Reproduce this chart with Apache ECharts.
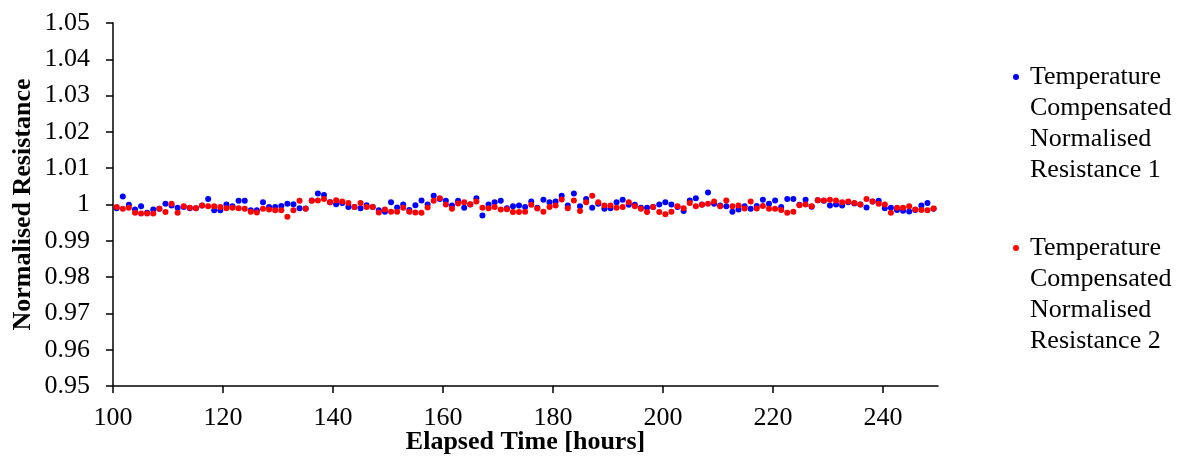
<!DOCTYPE html>
<html>
<head>
<meta charset="utf-8">
<script src="https://cdn.jsdelivr.net/npm/echarts@6/dist/echarts.min.js"></script>
<style>
html,body{margin:0;padding:0;background:#fff;}
#chart{width:1180px;height:457px;}
</style>
</head>
<body>
<div id="chart"></div>
<script>
const seriesNames = ['Temperature Compensated Normalised Resistance 1', 'Temperature Compensated Normalised Resistance 2'];
const legendLines = [
  ['Temperature', 'Compensated', 'Normalised', 'Resistance 1'],
  ['Temperature', 'Compensated', 'Normalised', 'Resistance 2']
];
const xAxisTitle = 'Elapsed Time [hours]';
const yAxisTitle = 'Normalised Resistance';
const xMin = 100, xMax = 250, xStep = 20;
const yMin = 0.95, yMax = 1.05, yStep = 0.01;
const xTickValues = [100, 120, 140, 160, 180, 200, 220, 240];

const times = [
100.67,101.78,102.89,104.00,105.10,106.21,107.32,108.43,109.54,110.65,
111.75,112.86,113.97,115.08,116.19,117.30,118.40,119.51,120.62,121.73,
122.84,123.95,125.05,126.16,127.27,128.38,129.49,130.60,131.71,132.81,
133.92,135.03,136.14,137.25,138.36,139.46,140.57,141.68,142.79,143.90,
145.01,146.11,147.22,148.33,149.44,150.55,151.66,152.76,153.87,154.98,
156.09,157.20,158.31,159.42,160.52,161.63,162.74,163.85,164.96,166.07,
167.17,168.28,169.39,170.50,171.61,172.72,173.82,174.93,176.04,177.15,
178.26,179.37,180.47,181.58,182.69,183.80,184.91,186.02,187.13,188.23,
189.34,190.45,191.56,192.67,193.78,194.88,195.99,197.10,198.21,199.32,
200.43,201.53,202.64,203.75,204.86,205.97,207.08,208.18,209.29,210.40,
211.51,212.62,213.73,214.84,215.94,217.05,218.16,219.27,220.38,221.49,
222.59,223.70,224.81,225.92,227.03,228.14,229.24,230.35,231.46,232.57,
233.68,234.79,235.89,237.00,238.11,239.22,240.33,241.44,242.55,243.65,
244.76,245.87,246.98,248.09,249.20
];

const resistance1 = [
0.9990,1.0022,0.9999,0.9986,0.9995,0.9977,0.9986,0.9988,1.0002,0.9997,
0.9991,0.9993,0.9990,0.9990,0.9997,1.0015,0.9984,0.9984,1.0000,0.9995,
1.0010,1.0010,0.9984,0.9984,1.0006,0.9993,0.9993,0.9996,1.0002,1.0001,
0.9990,0.9989,1.0011,1.0030,1.0026,1.0006,1.0001,1.0004,0.9993,0.9993,
0.9990,0.9998,0.9993,0.9984,0.9980,1.0006,0.9992,1.0000,0.9985,0.9998,
1.0011,1.0000,1.0024,1.0015,1.0010,0.9997,1.0010,0.9991,1.0000,1.0017,
0.9970,1.0000,1.0006,1.0010,0.9990,0.9995,0.9997,0.9993,1.0008,0.9991,
1.0013,1.0006,1.0008,1.0024,0.9997,1.0030,0.9995,1.0015,0.9991,1.0002,
0.9988,0.9990,1.0006,1.0013,0.9999,0.9999,0.9991,0.9991,0.9993,1.0000,
1.0006,1.0000,0.9993,0.9982,1.0011,1.0017,1.0000,1.0033,1.0002,0.9997,
0.9995,0.9980,0.9986,0.9995,0.9988,0.9996,1.0013,1.0002,1.0011,0.9993,
1.0015,1.0015,0.9999,1.0013,0.9994,1.0012,1.0010,0.9997,1.0000,0.9997,
1.0006,1.0003,1.0000,0.9992,1.0008,1.0010,0.9990,0.9991,0.9985,0.9983,
0.9981,0.9985,0.9997,1.0004,0.9988
];

const resistance2 = [
0.9993,0.9988,0.9991,0.9977,0.9975,0.9975,0.9975,0.9988,0.9979,1.0002,
0.9977,0.9995,0.9991,0.9990,0.9997,0.9995,0.9995,0.9993,0.9990,0.9991,
0.9990,0.9988,0.9980,0.9978,0.9988,0.9986,0.9984,0.9984,0.9966,0.9984,
1.0010,0.9988,1.0010,1.0011,1.0015,1.0006,1.0012,1.0008,1.0004,0.9993,
1.0004,0.9993,0.9993,0.9978,0.9986,0.9980,0.9980,0.9991,0.9980,0.9978,
0.9977,0.9992,1.0010,1.0017,1.0000,0.9988,1.0003,1.0006,1.0001,1.0008,
0.9991,0.9990,0.9993,0.9986,0.9987,0.9979,0.9979,0.9980,0.9999,0.9989,
0.9980,0.9993,0.9997,1.0014,0.9990,1.0011,0.9982,1.0006,1.0024,1.0006,
0.9997,0.9997,0.9991,0.9993,1.0006,0.9995,0.9988,0.9979,0.9993,0.9979,
0.9973,0.9980,0.9995,0.9990,1.0004,0.9995,0.9999,1.0002,1.0008,0.9995,
1.0011,0.9995,0.9997,0.9989,1.0008,0.9989,0.9996,0.9988,0.9988,0.9985,
0.9977,0.9980,0.9998,1.0000,0.9995,1.0012,1.0011,1.0013,1.0011,1.0006,
1.0008,1.0004,1.0000,1.0015,1.0008,1.0002,1.0000,0.9977,0.9991,0.9991,
0.9995,0.9986,0.9985,0.9984,0.9989
];

const seriesColors = ['#0000FF', '#FF0000'];
const FONT = "'Liberation Serif', 'Times New Roman', serif";
const LEGEND_LINE = 31;

const chart = echarts.init(document.getElementById('chart'), null, {renderer: 'canvas'});

// three leading blank lines so the marker sits beside the first text line
function legendFor(idx, iconY) {
  const nLines = 3 + legendLines[idx].length;
  return {
    data: [seriesNames[idx]],
    orient: 'vertical',
    left: 1013,
    top: iconY - nLines * LEGEND_LINE / 2,
    padding: 0,
    icon: 'circle',
    itemWidth: 18,
    itemHeight: 6,
    selectedMode: false,
    formatter: () => '\n\n\n' + legendLines[idx].join('\n'),
    textStyle: {
      fontFamily: FONT,
      fontSize: 26,
      color: '#000',
      lineHeight: LEGEND_LINE
    }
  };
}

chart.setOption({
  animation: false,
  backgroundColor: '#fff',
  grid: {left: 113, right: 242, top: 23, bottom: 71, containLabel: false, outerBoundsMode: 'none'},
  legend: [legendFor(0, 77), legendFor(1, 248)],
  xAxis: {
    type: 'value',
    min: xMin, max: xMax, interval: xStep,
    name: xAxisTitle,
    nameLocation: 'middle',
    nameGap: 43,
    nameMoveOverlap: false,
    nameTextStyle: {fontFamily: FONT, fontSize: 26, fontWeight: 'bold', color: '#000'},
    axisLine: {show: true, onZero: false, lineStyle: {color: '#000', width: 1.5}},
    axisTick: {show: true, inside: false, length: 7, lineStyle: {color: '#000', width: 1.5}, customValues: xTickValues},
    axisLabel: {fontFamily: FONT, fontSize: 26, color: '#000', margin: 19, customValues: xTickValues},
    splitLine: {show: false}
  },
  yAxis: {
    type: 'value',
    min: yMin, max: yMax, interval: yStep,
    name: yAxisTitle,
    nameLocation: 'middle',
    nameGap: 77,
    nameMoveOverlap: false,
    nameTextStyle: {fontFamily: FONT, fontSize: 26, fontWeight: 'bold', color: '#000'},
    axisLine: {show: true, lineStyle: {color: '#000', width: 1.5}},
    axisTick: {show: true, inside: false, length: 7, lineStyle: {color: '#000', width: 1.5}},
    axisLabel: {
      fontFamily: FONT, fontSize: 26, color: '#000', margin: 23,
      formatter: v => String(parseFloat(v.toFixed(2)))
    },
    splitLine: {show: false}
  },
  series: [0, 1].map(i => ({
    name: seriesNames[i],
    type: 'scatter',
    symbol: 'circle',
    symbolSize: 6,
    itemStyle: {color: seriesColors[i], opacity: 1},
    data: times.map((t, k) => [t, (i === 0 ? resistance1 : resistance2)[k]])
  }))
});
</script>
</body>
</html>
